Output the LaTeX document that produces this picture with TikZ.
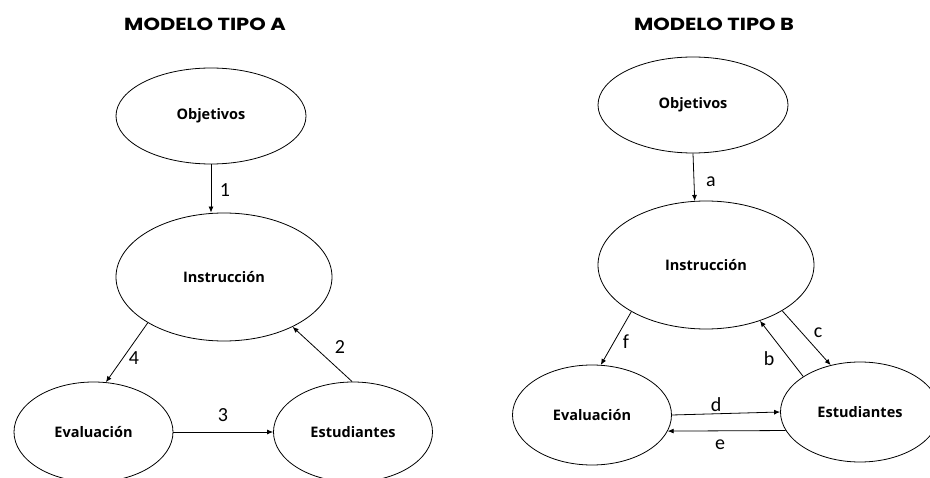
\documentclass[tikz,border=0pt]{standalone}
\usepackage{fontspec}
\setmainfont{Carlito}
\newfontfamily\titlefont[FakeStretch=1.2]{Poppins}
\newfontfamily\ovalfont{Open Sans}
\usetikzlibrary{arrows.meta,shapes.geometric}
\begin{document}
\begin{tikzpicture}[x=1pt,y=-1pt,
  oval/.style={ellipse,draw,line width=0.8pt,inner sep=0pt,font=\ovalfont\bfseries\fontsize{14.5}{17}\selectfont},
  small/.style={oval,minimum width=159pt,minimum height=100pt},
  large/.style={oval,minimum width=216pt,minimum height=128pt},
  top/.style={oval,minimum width=190pt,minimum height=96pt},
  link/.style={draw,line width=0.8pt,-{Latex[length=6pt,width=5pt]}},
  tag/.style={font=\fontsize{20}{22}\selectfont,inner sep=0pt},
  heading/.style={font=\titlefont\bfseries\fontsize{17.5}{19}\selectfont,inner sep=0pt}]
\useasboundingbox (0,0) rectangle (930,478);
\clip (0,0) rectangle (930,478);

% ---- Model A ----
\node[heading] (titleA) at (205,24) {MODELO TIPO A};
\node[top]   (objA)  at (211,116) {Objetivos};
\node[large] (instA) at (224,277) {Instrucción};
\node[small] (evalA) at (93.5,432) {Evaluación};
\node[small] (estA)  at (353,432) {Estudiantes};

\draw[link] (objA.south) -- (objA.south |- instA.north);
\draw[link] (instA.211.6) -- (evalA.76);
\draw[link] (estA.91) -- (instA.324.5);
\draw[link] (evalA.east) -- (estA.west);

\node[tag] (n1) at (225,190) {1};
\node[tag] (n4) at (134,358) {4};
\node[tag] (n2) at (340,347) {2};
\node[tag] (n3) at (223,415) {3};

% ---- Model B ----
\node[heading] (titleB) at (714,24) {MODELO TIPO B};
\node[top]   (objB)  at (693,105) {Objetivos};
\node[large] (instB) at (706,265) {Instrucción};
\node[small] (evalB) at (592,415) {Evaluación};
\node[small] (estB)  at (860,412) {Estudiantes};

\draw[link] (objB.south) -- (instB.100);
\draw[link] (instB.212) -- (evalB.80);
\draw[link] (instB.329.3) -- (estB.122.3);
\draw[link] (estB.148) -- (instB.314.5);
\draw[link] (evalB.east) -- (estB.west);
\draw[link] (estB.194.6) -- (evalB.348.5);

\node[tag] (na) at (711,182) {a};
\node[tag] (nf) at (626,342) {f};
\node[tag] (nc) at (818,333) {c};
\node[tag] (nb) at (769,359) {b};
\node[tag] (nd) at (716,405) {d};
\node[tag] (ne) at (720,445) {e};
\end{tikzpicture}
\end{document}
